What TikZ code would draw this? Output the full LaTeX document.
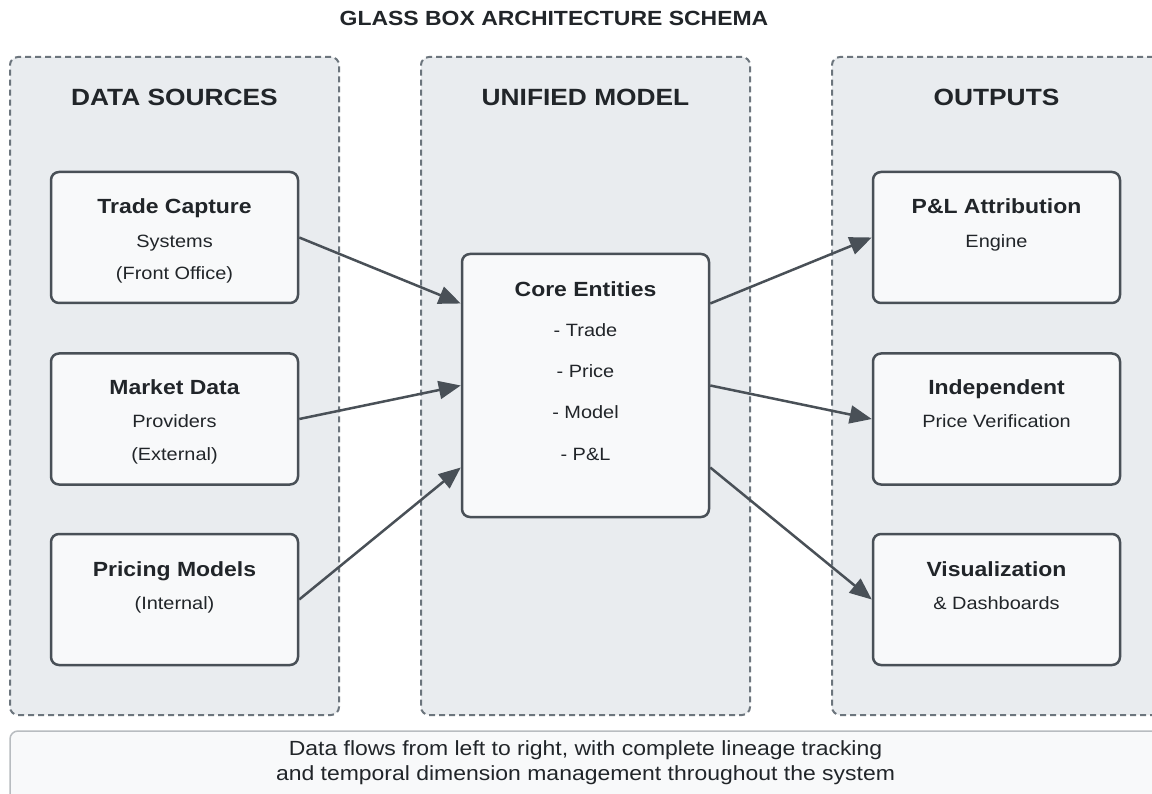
\documentclass[tikz,border=0pt]{standalone}
\usepackage{fontspec}
\setmainfont{Liberation Sans}[FakeStretch=1.12]
\usetikzlibrary{arrows.meta}
\definecolor{panelfill}{HTML}{E9ECEF}
\definecolor{paneldash}{HTML}{6C757D}
\definecolor{boxfill}{HTML}{F8F9FA}
\definecolor{boxline}{HTML}{495057}
\definecolor{txt}{HTML}{212529}
\definecolor{footline}{HTML}{B8BCC0}
\tikzset{
  panel/.style={draw=paneldash, fill=panelfill, line width=2pt, dash pattern=on 6pt off 4pt, rounded corners=8pt, minimum width=329pt, minimum height=658pt, inner sep=0pt},
  cbox/.style={draw=boxline, fill=boxfill, line width=2.5pt, rounded corners=8pt, minimum width=247pt, minimum height=131pt, inner sep=0pt},
  arr/.style={draw=boxline, line width=2.5pt, -{Triangle[length=22pt,width=18pt]}},
  ttl/.style={anchor=base, text=txt, font=\fontsize{20.5}{24}\selectfont\bfseries, inner sep=0pt},
  hdr/.style={anchor=base, text=txt, font=\fontsize{23.5}{28}\selectfont\bfseries, inner sep=0pt},
  btl/.style={anchor=base, text=txt, font=\fontsize{20.5}{24}\selectfont\bfseries, inner sep=0pt},
  sub/.style={anchor=base, text=txt, font=\fontsize{17.8}{21}\selectfont, inner sep=0pt},
  foot/.style={anchor=base, text=txt, font=\fontsize{20.5}{24}\selectfont, inner sep=0pt},
}
\begin{document}
\begin{tikzpicture}[x=1pt,y=-1pt]
\useasboundingbox (0,0) rectangle (1152,794);
\clip (0,0) rectangle (1152,794);
\fill[white] (0,0) rectangle (1152,794);

\node[ttl] (title) at (554,26) {GLASS BOX ARCHITECTURE SCHEMA};

% panels
\node[panel] (pds) at (174.5,386) {};
\node[panel] (pum) at (585.5,386) {};
\node[panel] (pout) at (996.5,386) {};
\node[hdr] (hds) at (174.5,106) {DATA SOURCES};
\node[hdr] (hum) at (585.5,106) {UNIFIED MODEL};
\node[hdr] (hout) at (996.5,106) {OUTPUTS};

% left boxes
\node[cbox] (tc) at (174.5,237.5) {};
\node[btl] (tct) at (174.5,214) {Trade Capture};
\node[sub] (tc1) at (174.5,248) {Systems};
\node[sub] (tc2) at (174.5,280) {(Front Office)};

\node[cbox] (md) at (174.5,419) {};
\node[btl] (mdt) at (174.5,395) {Market Data};
\node[sub] (md1) at (174.5,428) {Providers};
\node[sub] (md2) at (174.5,460) {(External)};

\node[cbox] (pm) at (174.5,599.5) {};
\node[btl] (pmt) at (174.5,576) {Pricing Models};
\node[sub] (pm1) at (174.5,609) {(Internal)};

% core
\node[cbox, minimum height=263pt] (core) at (585.5,385.5) {};
\node[btl] (coret) at (585.5,297) {Core Entities};
\node[sub] (c1) at (585.5,337) {- Trade};
\node[sub] (c2) at (585.5,378) {- Price};
\node[sub] (c3) at (585.5,419) {- Model};
\node[sub] (c4) at (585.5,460) {- P\&L};

% right boxes
\node[cbox] (pl) at (996.5,237.5) {};
\node[btl] (plt) at (996.5,214) {P\&L Attribution};
\node[sub] (pl1) at (996.5,248) {Engine};

\node[cbox] (ipv) at (996.5,419) {};
\node[btl] (ipvt) at (996.5,395) {Independent};
\node[sub] (ipv1) at (996.5,428) {Price Verification};

\node[cbox] (vis) at (996.5,599.5) {};
\node[btl] (vist) at (996.5,576) {Visualization};
\node[sub] (vis1) at (996.5,609) {\& Dashboards};

% arrows
\draw[arr] (tc.east) -- ([yshift=82pt]core.west);
\draw[arr] (md.east) -- (core.west);
\draw[arr] (pm.east) -- ([yshift=-82pt]core.west);
\draw[arr] ([yshift=82pt]core.east) -- (pl.west);
\draw[arr] (core.east) -- (ipv.west);
\draw[arr] ([yshift=-82pt]core.east) -- (vis.west);

% footer
\draw[draw=footline, fill=boxfill, line width=1.5pt, rounded corners=8pt] (10,731) rectangle (1180,830);
\node[foot] (f1) at (585.5,755) {Data flows from left to right, with complete lineage tracking};
\node[foot] (f2) at (585.5,780) {and temporal dimension management throughout the system};
\end{tikzpicture}
\end{document}
